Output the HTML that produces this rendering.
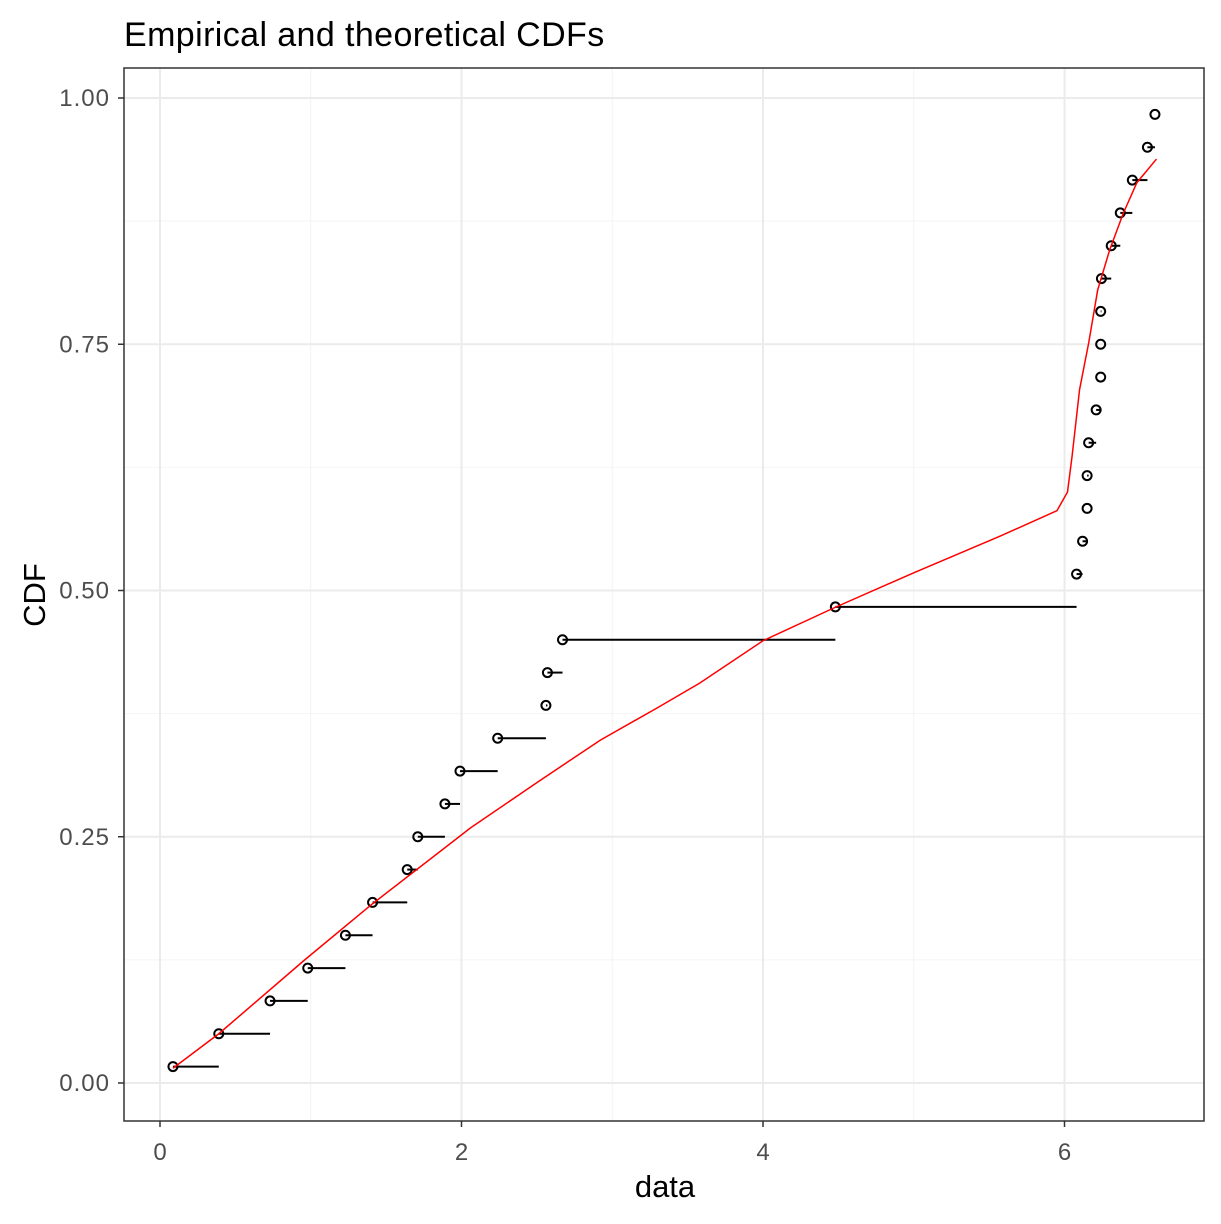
<!DOCTYPE html>
<html><head><meta charset="utf-8"><style>
body{margin:0;background:#fff;}
svg text{font-family:"Liberation Sans",Arial,sans-serif;}
</style></head><body>
<svg id="chart" width="1221" height="1219" xmlns="http://www.w3.org/2000/svg">
<rect width="1221" height="1219" fill="#fff"/>
<text x="124" y="46" font-size="34" letter-spacing="0.4" fill="#000">Empirical and theoretical CDFs</text>
<g id="grid"></g>
<g id="marks"></g>
<rect x="124" y="68" width="1080" height="1053" fill="none" stroke="#333" stroke-width="1.5"/>
<g id="axes"></g>
<text x="665" y="1197" font-size="31" text-anchor="middle" fill="#000">data</text>
<text transform="translate(45,595) rotate(-90)" font-size="31" text-anchor="middle" fill="#000">CDF</text>
</svg>
<script>
const empX=[0.086,0.39,0.73,0.98,1.23,1.41,1.64,1.71,1.89,1.99,2.24,2.56,2.57,2.67,4.48,6.08,6.12,6.15,6.15,6.16,6.21,6.24,6.24,6.24,6.245,6.31,6.37,6.45,6.55,6.60];
const theoX=[0.086,0.39,0.96,1.41,2.06,2.5,2.92,3.3,3.58,4.0,4.48,5.0,5.57,5.95,6.02,6.05,6.10,6.16,6.22,6.30,6.39,6.48,6.61];
const theoY=[0.015,0.05,0.125,0.182,0.259,0.305,0.348,0.381,0.406,0.449,0.483,0.518,0.555,0.581,0.6,0.636,0.704,0.751,0.805,0.846,0.883,0.914,0.938];
const xTicks=[0,2,4,6];
const yTicks=[0,0.25,0.5,0.75,1];
const yLabels=["0.00","0.25","0.50","0.75","1.00"];
const xMinor=[1,3,5];
const yMinor=[0.125,0.375,0.625,0.875];
const NS="http://www.w3.org/2000/svg";
const sx=v=>160+v*150.75, sy=v=>1083-v*985;
function mk(tag,attrs,parent){const e=document.createElementNS(NS,tag);for(const k in attrs)e.setAttribute(k,attrs[k]);document.getElementById(parent).appendChild(e);return e;}
xMinor.forEach(v=>{const l=mk('line',{x1:sx(v),x2:sx(v),y1:68,y2:1121,stroke:'#f4f4f4','stroke-width':1},'grid');

});
yMinor.forEach(v=>{const l=mk('line',{x1:124,x2:1204,y1:sy(v),y2:sy(v),stroke:'#f4f4f4','stroke-width':1},'grid');

});
xTicks.forEach(v=>{const l=mk('line',{x1:sx(v),x2:sx(v),y1:68,y2:1121,stroke:'#ebebeb','stroke-width':2},'grid');


const t=mk('line',{x1:sx(v),x2:sx(v),y1:1121,y2:1127,stroke:'#333','stroke-width':1.5},'axes');


const tx=mk('text',{x:sx(v),y:1160,'font-size':24,fill:'#4d4d4d','text-anchor':'middle'},'axes');tx.textContent=v;

});
yTicks.forEach((v,i)=>{const l=mk('line',{x1:124,x2:1204,y1:sy(v),y2:sy(v),stroke:'#ebebeb','stroke-width':2},'grid');


const t=mk('line',{x1:118,x2:124,y1:sy(v),y2:sy(v),stroke:'#333','stroke-width':1.5},'axes');


const tx=mk('text',{x:110,y:sy(v)+8,'font-size':24,'letter-spacing':1,fill:'#4d4d4d','text-anchor':'end'},'axes');tx.textContent=yLabels[i];

});
const n=empX.length;
empX.forEach((v,i)=>{const y=sy((i+0.5)/n);
if(i<n-1){const s=mk('line',{x1:sx(v),x2:sx(empX[i+1]),y1:y,y2:y,stroke:'#000','stroke-width':2},'marks');

}
const c=mk('circle',{cx:sx(v),cy:y,r:4.5,fill:'none',stroke:'#000','stroke-width':2},'marks');

});
const p=mk('polyline',{points:theoX.map((v,i)=>sx(v)+','+sy(theoY[i])).join(' '),fill:'none',stroke:'#ff0000','stroke-width':1.5},'marks');


</script>
</body></html>
